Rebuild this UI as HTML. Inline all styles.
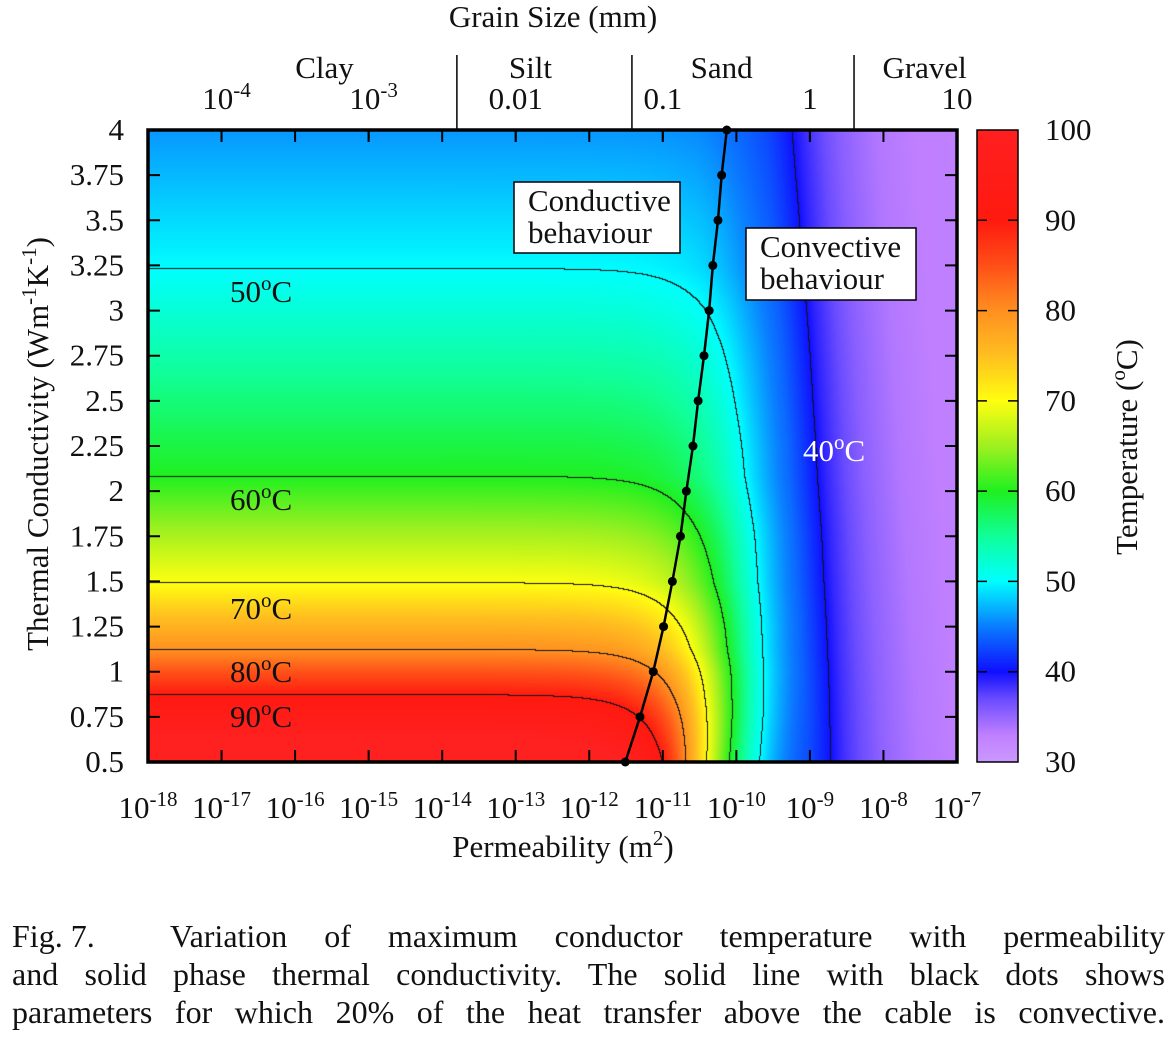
<!DOCTYPE html>
<html><head><meta charset="utf-8">
<style>
html,body{margin:0;padding:0;background:#fff;}
#wrap{position:relative;width:1176px;height:1040px;overflow:hidden;font-family:"Liberation Serif",serif;}
#heat{position:absolute;left:148px;top:130px;}
#bar{position:absolute;left:977px;top:130px;}
svg{position:absolute;left:0;top:0;}
svg text{font-family:"Liberation Serif",serif;fill:#111;}
#caption{position:absolute;left:12px;top:917px;width:1153px;font-size:32px;line-height:38px;color:#111;}
#caption div{text-align:justify;text-align-last:justify;white-space:nowrap;}
#caption .fig{display:inline-block;width:158px;white-space:pre;text-align:left;text-align-last:left;}
</style></head>
<body>
<div id="wrap">
<canvas id="heat" width="809" height="632"></canvas>
<canvas id="bar" width="41" height="632"></canvas>
<svg id="svg" width="1176" height="1040"></svg>
<div id="caption">
<div><span class="fig">Fig. 7.</span>Variation of maximum conductor temperature with permeability</div>
<div>and solid phase thermal conductivity. The solid line with black dots shows</div>
<div>parameters for which 20% of the heat transfer above the cable is convective.</div>
</div>
</div>
<script>
// ---- data ----
const lambdaKnots = [0.5, 0.87, 1.12, 1.49, 2.08, 3.23, 4.0];
const tempKnots = [105, 90, 80, 70, 60, 50, 46];
const tinfLogK = [-18, -10, -9.5, -9, -8.85, -8.5, -8, -7.5, -7];
const tinfTemp = [44, 43, 41.5, 40.8, 40, 37.5, 35, 33.5, 33];
const dotLambda = [0.5,0.75,1,1.25,1.5,1.75,2,2.25,2.5,2.75,3,3.25,3.5,3.75,4];
const dotLogK = [-11.51,-11.31,-11.13,-10.99,-10.87,-10.76,-10.68,-10.59,-10.52,-10.44,-10.37,-10.32,-10.25,-10.20,-10.13];
const contourLevels = [40, 50, 60, 70, 80, 90];
const xTickExp = [-18,-17,-16,-15,-14,-13,-12,-11,-10,-9,-8,-7];
const yTicks = [0.5,0.75,1,1.25,1.5,1.75,2,2.25,2.5,2.75,3,3.25,3.5,3.75,4];
const cbTicks = [30,40,50,60,70,80,90,100];
const grainLog = [-4,-3,-2,-1,0,1];
const grainLabels = [["10","-4"],["10","-3"],["0.01",""],["0.1",""],["1",""],["10",""]];
const grainClassBounds = [-2.4,-1.21,0.3];
const grainClasses = [["Clay",-3.3],["Silt",-1.9],["Sand",-0.6],["Gravel",0.78]];
const stopT = [30,33,37,40,45,50,55,60,65,70,75,80,85,90,100];
const stopC = ["#cc99ff","#c080ff","#6a4cff","#1010ff","#0a7dff","#00ffff","#10ff9a","#20f020","#a0f020","#ffff10","#ffc020","#ff9020","#ff5018","#ff1a10","#ff2020"];

const FS=31, SS=21;
const PX=148, PY=130, PW=809, PH=632;
const xS = lk => PX + (lk+18)/11*PW;
const yS = l => PY + PH - (l-0.5)/3.5*PH;
const gS = g => PX + (g+4.5)*2*PW/11;

function interp(xs, ys, x){
  if(x<=xs[0]) return ys[0];
  for(let i=1;i<xs.length;i++){ if(x<=xs[i]){const t=(x-xs[i-1])/(xs[i]-xs[i-1]);return ys[i-1]+t*(ys[i]-ys[i-1]);} }
  return ys[ys.length-1];
}
function hex(c){return [parseInt(c.substr(1,2),16),parseInt(c.substr(3,2),16),parseInt(c.substr(5,2),16)];}
const stopRGB = stopC.map(hex);
function cmap(T){ return [0,1,2].map(k=>interp(stopT, stopRGB.map(c=>c[k]), T)); }
function temp(lk, l){
  const tc = interp(lambdaKnots,tempKnots,l);
  const f=(l-0.5)/3.5;
  const ti = interp(tinfLogK,tinfTemp,lk+f*0.6);
  const c = interp(dotLambda,dotLogK,l)+1.0-0.7*f;
  const s = 1/(1+Math.exp((lk-c)/0.43));
  return ti + (tc-ti)*s;
}

const hc=document.getElementById('heat').getContext('2d');
const img=hc.createImageData(PW,PH);
const grid=new Float32Array(PW*PH);
for(let j=0;j<PH;j++){const l=4-(j+0.5)/PH*3.5;
  for(let i=0;i<PW;i++){const lk=-18+(i+0.5)/PW*11;grid[j*PW+i]=temp(lk,l);}}
for(let p=0;p<PW*PH;p++){const c=cmap(grid[p]);img.data[p*4]=c[0];img.data[p*4+1]=c[1];img.data[p*4+2]=c[2];img.data[p*4+3]=255;}
for(let j=0;j<PH-1;j++)for(let i=0;i<PW-1;i++){
  const a=grid[j*PW+i],b=grid[j*PW+i+1],d=grid[(j+1)*PW+i];
  for(const L of contourLevels){
    if((a-L)*(b-L)<0||(a-L)*(d-L)<0){const p=(j*PW+i)*4;img.data[p]=20;img.data[p+1]=20;img.data[p+2]=20;}
  }
}
hc.putImageData(img,0,0);
const bc=document.getElementById('bar').getContext('2d');
for(let j=0;j<PH;j++){const T=100-(j+0.5)/PH*70;const c=cmap(T);bc.fillStyle=`rgb(${c[0]|0},${c[1]|0},${c[2]|0})`;bc.fillRect(0,j,41,1);}

const NS='http://www.w3.org/2000/svg';
const svg=document.getElementById('svg');
function el(tag,attrs,parent){const e=document.createElementNS(NS,tag);for(const k in attrs)e.setAttribute(k,attrs[k]);(parent||svg).appendChild(e);return e;}
function txt(x,y,base,sup,size,anchor,name,fill){
  const t=el('text',{x:x,y:y,'font-size':size,'text-anchor':anchor||'middle'});
  
  
  if(fill)t.setAttribute('style','fill:'+fill);
  const s1=el('tspan',{},t);s1.textContent=base;
  if(sup){const s2=el('tspan',{dy:-12,'font-size':SS},t);s2.textContent=sup;}
  return t;
}

for(const e of xTickExp){
  const x=xS(e);
  const tk=el('path',{d:`M${x},${PY+PH}v-12M${x},${PY}v12`,stroke:'#000','stroke-width':2});
  
  
  txt(x,818,'10',String(e),FS,'middle','x-tick-label');
}
for(const v of yTicks){
  const y=yS(v);
  const tk=el('path',{d:`M${PX},${y}h12M${PX+PW},${y}h-12`,stroke:'#000','stroke-width':2});
  
  
  txt(124,y+10,String(v),'',FS,'end','y-tick-label');
}
grainLog.forEach((g,i)=>{
  const x=gS(g);
  const tk=el('path',{d:`M${x},${PY}v12`,stroke:'#000','stroke-width':2});
  
  
  txt(x+(grainLabels[i][1]?5:0),109,grainLabels[i][0],grainLabels[i][1],FS,'middle','grain-tick-label');
});
for(const b of grainClassBounds){
  const x=gS(b);
  const ln=el('line',{x1:x,x2:x,y1:55,y2:PY,stroke:'#000','stroke-width':1.5});
  
  
}
for(const c of grainClasses){ txt(gS(c[1]),78,c[0],'',FS,'middle','grain-class-label'); }
txt(553,27,'Grain Size (mm)','',FS,'middle','top-axis-title');
txt(563,857,'Permeability (m','2',FS,'middle','x-axis-title');
(function(){const t=svg.lastChild;const s=el('tspan',{dy:12},t);s.textContent=')';})();
(function(){
  const t=el('text',{x:0,y:0,'font-size':FS,'text-anchor':'middle',transform:'translate(48,444) rotate(-90)'});
  
  
  t.innerHTML=`<tspan>Thermal Conductivity (Wm</tspan><tspan dy="-12" font-size="${SS}">-1</tspan><tspan dy="12">K</tspan><tspan dy="-12" font-size="${SS}">-1</tspan><tspan dy="12">)</tspan>`;
  const t2=el('text',{x:0,y:0,'font-size':FS,'text-anchor':'middle',transform:'translate(1137,447) rotate(-90)'});
  
  
  t2.innerHTML=`<tspan>Temperature (</tspan><tspan dy="-12" font-size="${SS}">o</tspan><tspan dy="12">C)</tspan>`;
})();
const labs=[["50",302,230,'#111'],["60",510,230,'#111'],["70",619,230,'#111'],["80",682,230,'#111'],["90",727,230,'#111'],["40",461,803,'#fff']];
for(const L of labs){
  const t=el('text',{x:L[2],y:L[1],'font-size':FS,'text-anchor':'start'});
  
  
  t.setAttribute('style','fill:'+L[3]);
  t.innerHTML=`<tspan>${L[0]}</tspan><tspan dy="-12" font-size="${SS}">o</tspan><tspan dy="12">C</tspan>`;
}
function box(x,y,w,h,l1,l2,name){
  const g=el('g',{});
  el('rect',{x:x,y:y,width:w,height:h,fill:'#fff',stroke:'#000','stroke-width':1.5},g);
  const a=el('text',{x:x+14,y:y+29,'font-size':FS},g);a.textContent=l1;
  const b=el('text',{x:x+14,y:y+61,'font-size':FS},g);b.textContent=l2;
}
box(514,182,166,71,'Conductive','behaviour','conductive-label-box');
box(746,228,170,72,'Convective','behaviour','convective-label-box');
const pts=dotLambda.map((l,i)=>[xS(dotLogK[i]),yS(l)]);
const pl=el('polyline',{points:pts.map(p=>p.join(',')).join(' '),fill:'none',stroke:'#000','stroke-width':2.5});


for(const p of pts){const c=el('circle',{cx:p[0],cy:p[1],r:4.5,fill:'#000'});
  
  }
const fr=el('rect',{x:PX,y:PY,width:PW,height:PH,fill:'none',stroke:'#000','stroke-width':3.5});

const cf=el('rect',{x:977,y:130,width:41,height:632,fill:'none',stroke:'#000','stroke-width':1.5});

for(const v of cbTicks){
  const y=130+(100-v)/70*632;
  if(v>30&&v<100){const tk=el('path',{d:`M977,${y}h10M1018,${y}h-10`,stroke:'#000','stroke-width':1.5});
    }
  txt(1045,y+10,String(v),'',FS,'start','colorbar-tick-label');
}
</script>
</body></html>
